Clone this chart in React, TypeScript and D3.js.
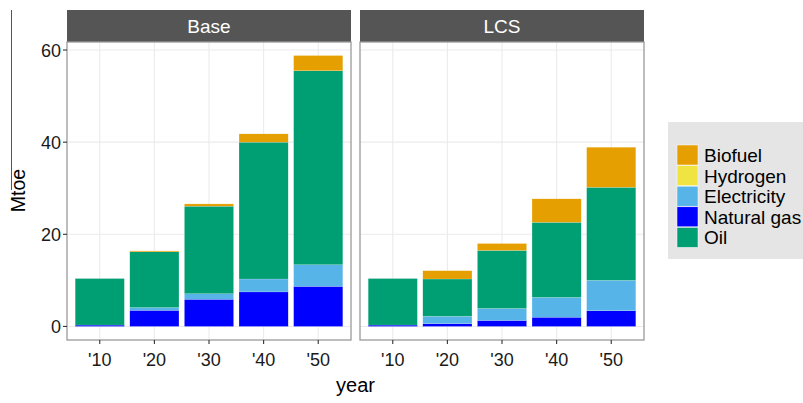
import * as d3 from 'd3';

const years = ["'10", "'20", "'30", "'40", "'50"];
const panels = ['Base', 'LCS'];
const fuels = ['Natural gas', 'Electricity', 'Oil', 'Hydrogen', 'Biofuel'];
const legendOrder = ['Biofuel', 'Hydrogen', 'Electricity', 'Natural gas', 'Oil'];
const yTicks = [0, 20, 40, 60];

// Base scenario (Mtoe)
const baseNaturalGas = [0.3, 3.5, 5.9, 7.5, 8.7];
const baseElectricity = [0, 0.6, 1.2, 2.8, 4.7];
const baseOil = [10.1, 12.1, 19.0, 29.7, 42.1];
const baseHydrogen = [0, 0, 0, 0, 0];
const baseBiofuel = [0, 0.2, 0.5, 1.8, 3.3];

// LCS scenario (Mtoe)
const lcsNaturalGas = [0.3, 0.6, 1.3, 2.0, 3.4];
const lcsElectricity = [0, 1.6, 2.6, 4.3, 6.6];
const lcsOil = [10.1, 8.1, 12.6, 16.3, 20.2];
const lcsHydrogen = [0, 0, 0, 0, 0];
const lcsBiofuel = [0, 1.8, 1.5, 5.1, 8.7];

const colors: Record<string, string> = {
  Biofuel: '#E69F00',
  Hydrogen: '#F0E442',
  Electricity: '#56B4E9',
  'Natural gas': '#0000FF',
  Oil: '#009E73',
};

const seriesByPanel: Record<string, Record<string, number[]>> = {
  Base: {
    'Natural gas': baseNaturalGas,
    Electricity: baseElectricity,
    Oil: baseOil,
    Hydrogen: baseHydrogen,
    Biofuel: baseBiofuel,
  },
  LCS: {
    'Natural gas': lcsNaturalGas,
    Electricity: lcsElectricity,
    Oil: lcsOil,
    Hydrogen: lcsHydrogen,
    Biofuel: lcsBiofuel,
  },
};

const width = 803;
const height = 403;
const panelTop = 42;
const panelBottom = 340;
const stripTop = 10;
const panelLefts = [67, 360];
const panelWidth = 284;
const font = 'Liberation Sans, Arial, Helvetica, sans-serif';

export default function App() {
  // y extent with ggplot's 5% expansion
  const maxTotal = d3.max(panels, p =>
    d3.max(years, (_, i) => d3.sum(fuels, f => seriesByPanel[p][f][i]))
  ) as number;
  const pad = maxTotal * 0.05;
  const y = d3.scaleLinear().domain([-pad, maxTotal + pad]).range([panelBottom, panelTop]);

  return (
    <svg width={width} height={height} style={{ position: 'absolute', left: 0, top: 0 }} fontFamily={font}>
      <rect width={width} height={height} fill="white" />
      {/* stray line from the source image */}
      <line x1={11.5} x2={11.5} y1={10} y2={190} stroke="#555" strokeWidth={1} />

      {panels.map((p, pi) => {
        const left = panelLefts[pi];
        const x = d3.scalePoint<string>().domain(years).range([left, left + panelWidth]).padding(0.6);
        const bw = x.step() * 0.9;
        const rows = years.map((_, i) => i);
        const layers = d3.stack<number>()
          .keys(fuels)
          .value((i, key) => seriesByPanel[p][key][i])(rows);
        return (
          <g key={p}>
            <rect x={left} y={stripTop} width={panelWidth} height={panelTop - stripTop} fill="#555555" />
            <text x={left + panelWidth / 2} y={33} textAnchor="middle" fill="white" fontSize={19}>
              {p}
            </text>
            <rect x={left} y={panelTop} width={panelWidth} height={panelBottom - panelTop} fill="white" />
            {yTicks.map(t => (
              <line key={t} x1={left} x2={left + panelWidth} y1={y(t)} y2={y(t)} stroke="#ebebeb" strokeWidth={1.1} />
            ))}
            {years.map(yr => (
              <line key={yr} x1={x(yr)} x2={x(yr)} y1={panelTop} y2={panelBottom} stroke="#ebebeb" strokeWidth={1.1} />
            ))}
            {layers.map(layer => (
              <g key={layer.key} fill={colors[layer.key]}>
                {layer.map((d, i) =>
                  d[1] - d[0] > 0 ? (
                    <rect
                      key={i}
                      x={(x(years[i]) as number) - bw / 2}
                      y={y(d[1])}
                      width={bw}
                      height={y(d[0]) - y(d[1])}
                      stroke="white"
                      strokeOpacity={0.4}
                      strokeWidth={0.4}
                    />
                  ) : null
                )}
              </g>
            ))}
            <rect x={left} y={panelTop} width={panelWidth} height={panelBottom - panelTop} fill="none" stroke="#9a9a9a" strokeWidth={1.3} />
            {years.map(yr => (
              <g key={yr}>
                <line x1={x(yr)} x2={x(yr)} y1={panelBottom} y2={panelBottom + 4} stroke="#333" strokeWidth={1.1} />
                <text x={x(yr)} y={365.5} textAnchor="middle" fontSize={18} fill="#1a1a1a">
                  {yr}
                </text>
              </g>
            ))}
          </g>
        );
      })}

      {/* y axis */}
      {yTicks.map(t => (
        <g key={t}>
          <line x1={panelLefts[0] - 4} x2={panelLefts[0]} y1={y(t)} y2={y(t)} stroke="#333" strokeWidth={1.1} />
          <text x={panelLefts[0] - 6} y={y(t) + 6.5} textAnchor="end" fontSize={18} fill="#1a1a1a">
            {t}
          </text>
        </g>
      ))}
      <text transform={`translate(25, 190.5) rotate(-90)`} textAnchor="middle" fontSize={19.5} fill="black">
        Mtoe
      </text>
      <text x={(panelLefts[0] + panelLefts[1] + panelWidth) / 2} y={391.5} textAnchor="middle" fontSize={20} fill="black">
        year
      </text>

      {/* legend */}
      <rect x={668} y={122} width={140} height={137} fill="#e5e5e5" />
      {legendOrder.map((f, i) => (
        <g key={f} transform={`translate(677, ${145 + i * 20.6})`}>
          <rect width={21} height={20} fill={colors[f]} stroke="white" strokeWidth={0.5} />
          <text x={27} y={17} fontSize={19} fill="black">
            {f}
          </text>
        </g>
      ))}
    </svg>
  );
}
